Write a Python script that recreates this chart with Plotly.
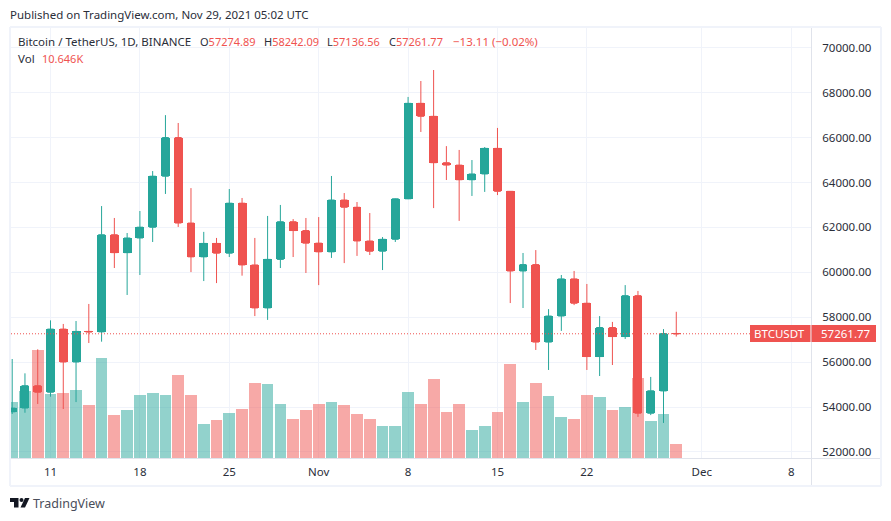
import plotly.graph_objects as go
import pandas as pd

start_date = "2021-10-08"
opens = [53785,53955,54949,54659,57471,56005,57367,57347,61672,60875,61528,62005,64280,66001,62193,60688,61286,60852,63078,60328,58413,60575,62253,61859,61299,60911,63219,62896,61395,60940,61470,63273,67525,66947,64882,64774,64122,64380,65519,63606,60058,60344,56891,58052,59707,58622,56247,57541,57138,58960,53723,54716,57274.89]
closes = [53951,54949,54659,57471,56005,57367,57347,61672,60875,61528,62009,64280,66001,62193,60688,61286,60852,63078,60328,58413,60575,62253,61859,61299,60911,63219,62896,61395,60937,61470,63273,67525,66947,64882,64774,64122,64380,65519,63606,60058,60344,56891,58052,59707,58622,56247,57541,57138,58960,53726,54721,57274,57261.77]
highs = [56138,55500,56570,57860,57700,57830,58590,62950,62420,61750,62730,64510,67000,66650,63750,61800,61530,63710,63310,61530,62510,63000,62370,62420,62460,64290,63530,63130,62640,61570,63286,67810,68520,69010,65620,65450,65000,65580,66430,63620,60860,60990,58360,59880,60060,59480,58050,57790,59430,59170,55340,57470,58242.09]
lows = [53689,53745,54135,54460,53910,54220,56850,56910,60190,58990,59880,61350,63490,62020,60010,59610,59520,60680,59850,58050,57880,60190,60680,59970,59430,60640,60410,60730,60770,60100,61350,63260,66250,62860,64110,62290,63400,63580,63440,58630,58410,56540,55650,57390,58540,55650,55380,55870,57030,53560,53640,53290,57136.56]
volumes_k = [41.9,50.1,80.6,47.8,48.6,50.8,39.7,74.6,32.2,35.9,47.1,48.6,47.1,62.0,47.1,25.5,28.5,33.7,36.7,56.0,55.3,40.4,29.2,35.9,40.4,41.9,39.7,33.0,29.2,24.0,24.0,49.3,40.4,59.0,34.4,40.4,21.1,24.0,34.4,70.2,41.9,56.0,46.4,30.7,29.2,47.1,45.6,35.9,38.2,59.7,27.8,33.0,10.646]

price_ticks = [52000,54000,56000,58000,60000,62000,64000,66000,68000,70000]
x_tick_dates = ["2021-10-11","2021-10-18","2021-10-25","2021-11-01","2021-11-08","2021-11-15","2021-11-22","2021-12-01","2021-12-08"]
x_tick_labels = ["11","18","25","Nov","8","15","22","Dec","8"]
last_price = 57261.77

UP, DOWN = "#26a69a", "#ef5350"
UP_V, DOWN_V = "rgba(38,166,154,0.5)", "rgba(239,83,80,0.5)"
FONT = "Noto Sans"
TEXT = "#2a2e39"
W, H = 891, 521
L, R, T, B = 11, 811, 28, 458
P_LO, P_HI = 51729, 70881
V_HI = 320.0

def px(x): return (x - L) / (R - L)
def py(y): return (B - y) / (B - T)

dates = pd.date_range(start_date, periods=len(opens), freq="D")
bar_colors = [UP_V if c >= o else DOWN_V for o, c in zip(opens, closes)]
body_colors = [UP if c >= o else DOWN for o, c in zip(opens, closes)]
grid_vols = [(p - P_LO) / (P_HI - P_LO) * V_HI for p in price_ticks]

fig = go.Figure()
fig.add_trace(go.Bar(x=dates, y=volumes_k, marker=dict(color=bar_colors, line_width=0),
                     width=86400000 * 0.92, yaxis="y", showlegend=False))
# Full-width candle bodies, drawn through the price axis under the candlestick trace.
fig.add_trace(go.Bar(x=dates, base=[min(o, c) for o, c in zip(opens, closes)],
                     y=[abs(c - o) for o, c in zip(opens, closes)],
                     marker=dict(color=body_colors, line_width=0), width=86400000 * 0.7,
                     yaxis="y2", showlegend=False))
fig.add_trace(go.Candlestick(x=dates, open=opens, high=highs, low=lows, close=closes, yaxis="y2",
                             whiskerwidth=0, showlegend=False,
                             increasing=dict(line=dict(color=UP, width=1), fillcolor=UP),
                             decreasing=dict(line=dict(color=DOWN, width=1), fillcolor=DOWN)))

def line(x0, y0, x1, y1, color, width=1, dash="solid"):
    return dict(type="line", xref="paper", yref="paper", x0=px(x0), y0=py(y0), x1=px(x1), y1=py(y1),
                line=dict(color=color, width=width, dash=dash), layer="above")

FRAME = "#f0f3fa"
shapes = [
    line(10, 27, 881, 27, FRAME, 2), line(10, 486, 881, 486, FRAME, 2),
    line(10, 27, 10, 486, FRAME, 2), line(881, 27, 881, 486, FRAME, 2),
    line(811.5, 28, 811.5, 485, "#e0e3eb"), line(11, 458.5, 880, 458.5, "#e0e3eb"),
    dict(type="line", xref="paper", yref="y2", x0=0, x1=1, y0=last_price, y1=last_price,
         line=dict(color=DOWN, width=1, dash="1px,2px"), layer="above"),
    dict(type="rect", xref="paper", yref="paper", x0=px(750), x1=px(810.5), y0=py(325), y1=py(342),
         fillcolor=DOWN, line_width=0, layer="above"),
    dict(type="rect", xref="paper", yref="paper", x0=px(811.5), x1=px(876), y0=py(325), y1=py(342),
         fillcolor=DOWN, line_width=0, layer="above"),
    dict(type="path", xref="paper", yref="paper", fillcolor="#131722", line_width=0, layer="above",
         path="M {} {} L {} {} L {} {} L {} {} L {} {} L {} {} Z".format(
             px(10), py(498), px(18.5), py(498), px(18.5), py(507.5), px(14), py(507.5), px(14), py(502), px(10), py(502))),
    dict(type="path", xref="paper", yref="paper", fillcolor="#131722", line_width=0, layer="above",
         path="M {} {} L {} {} L {} {} L {} {} Z".format(
             px(25), py(498), px(29.5), py(498), px(25), py(507.5), px(20.5), py(507.5))),
    dict(type="circle", xref="paper", yref="paper", fillcolor="#131722", line_width=0, layer="above",
         x0=px(19.5), x1=px(23.5), y0=py(502), y1=py(498)),
]

def note(x, y, text, size=11, color=TEXT, anchor="left"):
    return dict(xref="paper", yref="paper", x=px(x), y=py(y), text=text, showarrow=False,
                xanchor=anchor, yanchor="middle", font=dict(family=FONT, size=size, color=color),
                bgcolor="rgba(0,0,0,0)", borderpad=0, borderwidth=0)

def red(s): return f'<span style="color:{DOWN}">{s}</span>'

annotations = [
    note(10, 14.5, "Published on TradingView.com, Nov 29, 2021 05:02 UTC", 11.5),
    note(18, 41.5, "Bitcoin / TetherUS, 1D, BINANCE", 11.5),
    note(200, 41.5, "O" + red("57274.89"), 11),
    note(264, 41.5, "H" + red("58242.09"), 11),
    note(327, 41.5, "L" + red("57136.56"), 11),
    note(389, 41.5, "C" + red("57261.77"), 11),
    note(452.5, 41.5, red("−13.11 (−0.02%)"), 11.5),
    note(18, 58.5, "Vol", 11.5),
    note(42, 58.5, red("10.646K"), 11),
    note(779, 333.5, "BTCUSDT", 11.5, "#ffffff", "center"),
    note(845.5, 333.5, "57261.77", 11.5, "#ffffff", "center"),
    note(33, 503, "TradingView", 12.5, "#4a4e5a"),
]

GRID = "#f0f3fa"
fig.update_layout(
    width=W, height=H, margin=dict(l=L, r=W - R, t=T, b=H - B),
    paper_bgcolor="white", plot_bgcolor="white", showlegend=False, bargap=0,
    font=dict(family=FONT, size=11.5, color=TEXT),
    xaxis=dict(type="date", range=["2021-10-07 21:46", "2021-12-09 13:12"], rangeslider=dict(visible=False),
               tickmode="array", tickvals=x_tick_dates, ticktext=x_tick_labels, showgrid=True, gridcolor=GRID,
               gridwidth=1, zeroline=False, showline=False, ticks="outside", ticklen=3, tickcolor="rgba(0,0,0,0)",
               tickfont=dict(family=FONT, size=11.5, color=TEXT)),
    yaxis=dict(range=[0, V_HI], tickmode="array", tickvals=grid_vols, showticklabels=False, showgrid=True,
               gridcolor=GRID, gridwidth=1, zeroline=False, showline=False, ticks=""),
    yaxis2=dict(range=[P_LO, P_HI], overlaying="y", side="right", tickmode="array", tickvals=price_ticks,
                ticktext=[f"{p}.00" for p in price_ticks], showgrid=False, zeroline=False, showline=False,
                ticks="outside", ticklen=8, tickcolor="rgba(0,0,0,0)",
                tickfont=dict(family=FONT, size=11.5, color=TEXT)),
    shapes=shapes, annotations=annotations, hovermode=False,
)
fig.write_html("out.html", config=dict(displayModeBar=False),
               post_script="document.body.style.margin='0';")
